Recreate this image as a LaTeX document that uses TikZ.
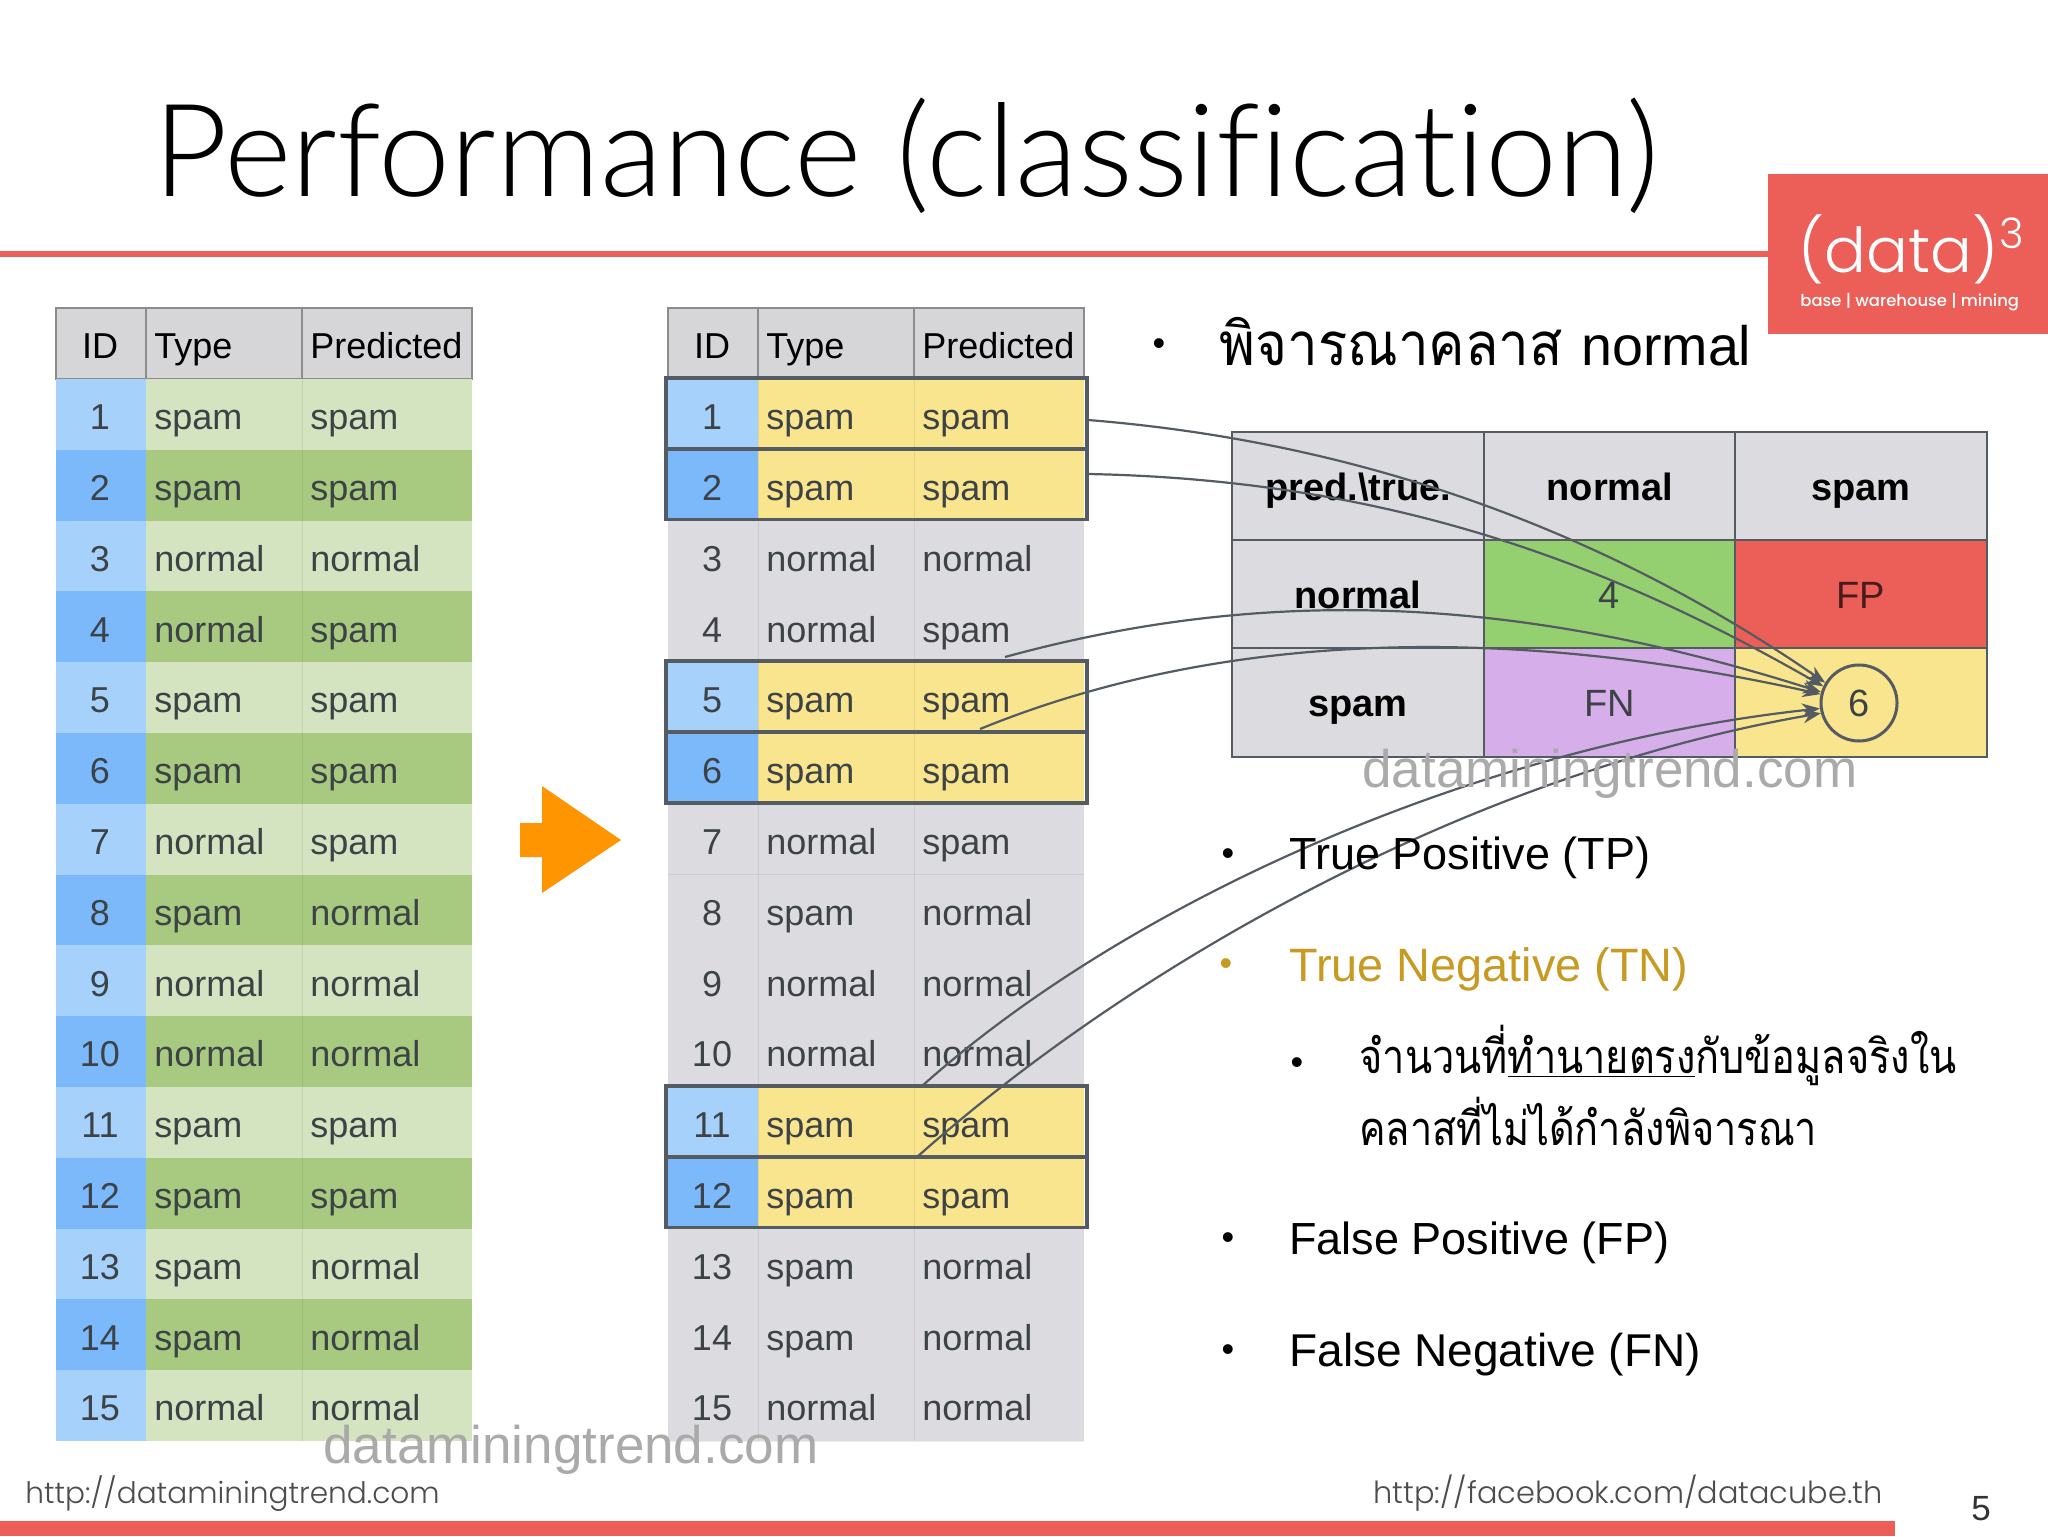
\documentclass[tikz,border=0pt]{standalone}
\usepackage{fontspec}
\usetikzlibrary{arrows.meta}
\setmainfont{Liberation Sans}
\newfontfamily\thaifont[Script=Thai,FakeStretch=0.845]{Loma}
\newfontfamily\thaihead[Script=Thai,FakeStretch=0.91]{Loma}
\newfontfamily\logofont{Poppins Light}
\newfontfamily\logofontb{Poppins Medium}
\newfontfamily\titlefont[Ligatures=NoCommon]{Lato Light}
\definecolor{redbar}{HTML}{EC5E58}
\definecolor{idlight}{HTML}{A6D1FB}
\definecolor{iddark}{HTML}{7BB9FB}
\definecolor{grlight}{HTML}{D4E4C0}
\definecolor{grdark}{HTML}{A8CA80}
\definecolor{head}{HTML}{D6D5D8}
\definecolor{cellgray}{HTML}{DCDCE0}
\definecolor{yel}{HTML}{F9E58D}
\definecolor{linec}{HTML}{545B62}
\definecolor{txt}{HTML}{3D4247}
\definecolor{cmgreen}{HTML}{94D070}
\definecolor{cmpurple}{HTML}{D6AEEA}
\definecolor{gold}{HTML}{C89A22}
\definecolor{wm}{HTML}{AAAAAA}
\definecolor{orng}{HTML}{FF9500}
\newcommand{\rowtop}[1]{379+70.8*(#1-1)}
\tikzset{
  celltxt/.style={anchor=base,inner sep=0pt,font=\fontsize{18}{20}\selectfont,text=txt},
  celll/.style={celltxt,anchor=base west},
  headtxt/.style={celltxt,text=black},
  headl/.style={celll,text=black},
  cmhead/.style={anchor=base,inner sep=0pt,font=\fontsize{19}{21}\selectfont\bfseries,text=black},
  cmbody/.style={anchor=base,inner sep=0pt,font=\fontsize{19}{21}\selectfont,text=txt},
  bullettxt/.style={anchor=base west,inner sep=0pt,font=\fontsize{22.5}{26}\selectfont},
  bulletmark/.style={anchor=base,inner sep=0pt,font=\fontsize{18}{20}\selectfont},
  thaitxt/.style={anchor=base west,inner sep=0pt,font=\thaifont\fontsize{23.5}{28}\selectfont},
  watermark/.style={anchor=base west,inner sep=0pt,font=\fontsize{26.5}{30}\selectfont,text=wm},
  footer/.style={anchor=base west,inner sep=0pt,font=\logofont\fontsize{14.8}{18}\selectfont,text=black!70},
  conn/.style={draw=linec,line width=1.1pt,-{Stealth[length=9pt,width=7pt]}},
  hlbox/.style={draw=linec,line width=1.8pt},
  grid line/.style={draw=linec,line width=1pt},
  subtle/.style={draw=black,opacity=.07,line width=.5pt}
}
\begin{document}
\begin{tikzpicture}[x=0.5pt,y=-0.5pt]
\useasboundingbox (0,0) rectangle (2048,1536);
\fill[white] (0,0) rectangle (2048,1536);
% title rule and logo
\fill[redbar] (0,251) rectangle (1768,257);
\fill[redbar] (1768,174) rectangle (2048,334);
\fill[redbar] (0,1521) rectangle (1895,1536);
\node[anchor=base west,inner sep=0pt,font=\titlefont\fontsize{64.6}{70}\selectfont,text=black] (title) at (153,196) {Performance (classification)};
\node[anchor=base west,inner sep=0pt,font=\logofont\fontsize{31}{34}\selectfont,text=white] (logo) at (1798,272) {(data)};
\node[anchor=base,inner sep=0pt,font=\logofont\fontsize{21}{23}\selectfont,text=white] (logo3) at (2012,248) {3};
\node[anchor=base west,inner sep=0pt,font=\logofontb\fontsize{8.2}{10}\selectfont,text=white] (tag) at (1800,306) {base | warehouse | mining};
% left table
\fill[head] (56,308) rectangle (472,379);
\draw[draw=black!45,line width=.8pt] (56,379) -- (56,308) -- (472,308) -- (472,379) -- cycle (146,308) -- (146,379) (302,308) -- (302,379);
\node[headtxt] (Lh1) at (100,358) {ID};
\node[headl] (Lh2) at (154,358) {Type};
\node[headl] (Lh3) at (310,358) {Predicted};
% middle table
\fill[head] (668,308) rectangle (1084,379);
\draw[draw=black!45,line width=.8pt] (668,379) -- (668,308) -- (1084,308) -- (1084,379) -- cycle (758,308) -- (758,379) (914,308) -- (914,379);
\node[headtxt] (Mh1) at (712,358) {ID};
\node[headl] (Mh2) at (766,358) {Type};
\node[headl] (Mh3) at (922,358) {Predicted};
\foreach \i/\t/\p/\h in {1/spam/spam/1,2/spam/spam/1,3/normal/normal/0,4/normal/spam/0,5/spam/spam/1,6/spam/spam/1,7/normal/spam/0,8/spam/normal/0,9/normal/normal/0,10/normal/normal/0,11/spam/spam/1,12/spam/spam/1,13/spam/normal/0,14/spam/normal/0,15/normal/normal/0}{
  \ifodd\i\def\idc{idlight}\def\grc{grlight}\else\def\idc{iddark}\def\grc{grdark}\fi
  \ifnum\h=1\def\midc{\idc}\def\midr{yel}\else\def\midc{cellgray}\def\midr{cellgray}\fi
  \pgfmathsetmacro\ya{\rowtop{\i}}
  \pgfmathsetmacro\yb{\ya+70.8}
  \pgfmathsetmacro\yt{\ya+50.6}
  \fill[\idc] (56,\ya) rectangle (146,\yb);
  \fill[\grc] (146,\ya) rectangle (472,\yb);
  \fill[\midc] (668,\ya) rectangle (758,\yb);
  \fill[\midr] (758,\ya) rectangle (1084,\yb);
  \draw[subtle] (302,\ya) -- (302,\yb);
  \draw[subtle] (914,\ya) -- (914,\yb);
  \draw[subtle] (668,\yb) -- (1084,\yb);
  \draw[subtle] (758,\ya) -- (758,\yb);
  \node[celltxt] (L\i-id) at (100,\yt) {\i};
  \node[celll] (L\i-t) at (154,\yt) {\t};
  \node[celll] (L\i-p) at (310,\yt) {\p};
  \node[celltxt] (M\i-id) at (712,\yt) {\i};
  \node[celll] (M\i-t) at (766,\yt) {\t};
  \node[celll] (M\i-p) at (922,\yt) {\p};
}
\foreach \i in {1,2,5,6,11,12}{
  \pgfmathsetmacro\ya{\rowtop{\i}}
  \pgfmathsetmacro\yb{\ya+70.8}
  \draw[hlbox] (666,\ya-1) rectangle (1087,\yb-1);
}
% orange arrow
\fill[orng] (520,823) -- (542,823) -- (542,786) -- (621,840) -- (542,893) -- (542,857) -- (520,857) -- cycle;
% confusion matrix
\fill[cellgray] (1232,432) rectangle (1987,757);
\fill[cmgreen] (1484,540) rectangle (1735,648);
\fill[redbar] (1735,540) rectangle (1987,648);
\fill[cmpurple] (1484,648) rectangle (1735,757);
\fill[yel] (1735,648) rectangle (1987,757);
\draw[grid line,line width=1.3pt] (1232,432) rectangle (1987,757);
\draw[grid line] (1484,432) -- (1484,757) (1735,432) -- (1735,757) (1232,540) -- (1987,540) (1232,648) -- (1987,648);
\node[cmhead] (c00) at (1358,500) {pred.\textbackslash true.};
\node[cmhead] (c01) at (1610,500) {normal};
\node[cmhead] (c02) at (1861,500) {spam};
\node[cmhead] (c10) at (1358,608) {normal};
\node[cmbody] (c11) at (1609,608) {4};
\node[cmbody,text=black!70!redbar] (c12) at (1861,608) {FP};
\node[cmhead] (c20) at (1358,716) {spam};
\node[cmbody] (c21) at (1610,716) {FN};
\node[circle,draw=linec,line width=1.5pt,fill=yel,minimum size=38pt,inner sep=0pt,font=\fontsize{19}{21}\selectfont,text=txt] (six) at (1859,703) {6};
% connectors
\coordinate (s1) at (1088,420);
\coordinate (s2) at (1088,474);
\coordinate (s4) at (1005,657);
\coordinate (s5) at (980,729);
\coordinate (s11) at (922,1086);
\coordinate (s12) at (917,1157);
\draw[conn] (s1) .. controls (1400,445) and (1640,555) .. (six.149);
\draw[conn] (s2) .. controls (1400,480) and (1620,570) .. (six.155);
\draw[conn] (s4) .. controls (1250,590) and (1500,590) .. (six.164);
\draw[conn] (s5) .. controls (1230,627) and (1520,627) .. (six.167);
\draw[conn] (s11) .. controls (1130,900) and (1480,745) .. (six.188);
\draw[conn] (s12) .. controls (1150,950) and (1490,770) .. (six.195);
% right-hand text
\node[bulletmark] (b0) at (1159,355) {•};
\node[anchor=base west,inner sep=0pt,font=\thaihead\fontsize{30}{34}\selectfont] (h0) at (1219,365) {พิจารณาคลาส};
\node[anchor=base west,inner sep=0pt,font=\fontsize{27.8}{30}\selectfont] (h0b) at (1581,365) {normal};
\node[bulletmark] (b1) at (1228,865) {•};
\node[bullettxt] (t1) at (1289,869) {True Positive (TP)};
\node[bulletmark,text=gold] (b2) at (1226,975) {•};
\node[bullettxt,text=gold,font=\fontsize{23.4}{26}\selectfont] (t2) at (1289,981) {True Negative (TN)};
\node[bulletmark] (b3) at (1297,1074) {•};
\node[thaitxt] (t3) at (1359,1073) {จำนวนที่\underline{ทำนายตรง}กับข้อมูลจริงใน};
\node[thaitxt] (t4) at (1359,1145) {คลาสที่ไม่ได้กำลังพิจารณา};
\node[bulletmark] (b5) at (1228,1249) {•};
\node[bullettxt] (t5) at (1289,1254) {False Positive (FP)};
\node[bulletmark] (b6) at (1228,1361) {•};
\node[bullettxt,font=\fontsize{23}{26}\selectfont] (t6) at (1289,1366) {False Negative (FN)};
% watermarks and footer
\node[watermark] (w1) at (323,1463) {dataminingtrend.com};
\node[watermark] (w2) at (1362,787) {dataminingtrend.com};
\node[footer] (f1) at (25,1503) {http://dataminingtrend.com};
\node[footer,font=\logofont\fontsize{15.2}{18}\selectfont] (f2) at (1373,1503) {http://facebook.com/datacube.th};
\node[anchor=base,inner sep=0pt,font=\fontsize{17.5}{20}\selectfont,text=black!80] (pg) at (1981,1520) {5};
\end{tikzpicture}
\end{document}
